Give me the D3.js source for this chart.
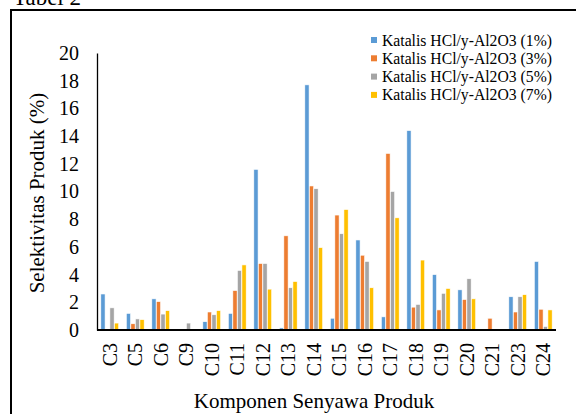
<!DOCTYPE html>
<html>
<head>
<meta charset="utf-8">
<script src="https://cdn.jsdelivr.net/npm/d3@7"></script>
<style>
    body { margin: 0; background: #fff; }
</style>
</head>
<body>
<div id="chart"></div>
<script>
var categories = ["C3", "C5", "C6", "C9", "C10", "C11", "C12", "C13", "C14", "C15", "C16", "C17", "C18", "C19", "C20", "C21", "C23", "C24"];
var seriesNames = ["Katalis HCl/y-Al2O3 (1%)", "Katalis HCl/y-Al2O3 (3%)", "Katalis HCl/y-Al2O3 (5%)", "Katalis HCl/y-Al2O3 (7%)"];
var colors = ["#5B9BD5", "#ED7D31", "#A5A5A5", "#FFC000"];

// one array per catalyst, same order as categories
var katalis1 = [2.6, 1.2, 2.25, 0, 0.6, 1.2, 11.6, 0.15, 17.7, 0.85, 6.5, 0.95, 14.4, 4.0, 2.9, 0, 2.4, 4.95];
var katalis3 = [0, 0.45, 2.05, 0, 1.3, 2.85, 4.8, 6.8, 10.4, 8.3, 5.4, 12.75, 1.65, 1.45, 2.2, 0.85, 1.3, 1.5];
var katalis5 = [1.6, 0.8, 1.15, 0.5, 1.1, 4.3, 4.8, 3.05, 10.2, 6.95, 4.95, 10.0, 1.85, 2.65, 3.7, 0, 2.4, 0.25];
var katalis7 = [0.5, 0.75, 1.4, 0, 1.4, 4.7, 2.95, 3.5, 5.95, 8.7, 3.05, 8.1, 5.05, 3.0, 2.25, 0, 2.55, 1.45];
var yTicks = [0, 2, 4, 6, 8, 10, 12, 14, 16, 18, 20];

var series = [katalis1, katalis3, katalis5, katalis7];
var serif = "'Liberation Serif', 'Times New Roman', 'DejaVu Serif', serif";

var width = 576, height = 414;
var svg = d3.select("#chart")
    .append("svg")
    .attr("width", width)
    .attr("height", height);

// frame of the table cell
svg.append("rect")
    .attr("x", 11)
    .attr("y", 10)
    .attr("width", 600)
    .attr("height", 420)
    .style("fill", "none")
    .style("stroke", "#000")
    .style("stroke-width", 2);

svg.append("text")
    .attr("x", 13)
    .attr("y", 5)
    .style("font-family", serif)
    .style("font-size", "23px")
    .attr("fill", "#000")
    .text("Tabel 2");

var x0 = d3.scaleBand()
    .domain(categories)
    .range([97, 556])
    .paddingInner(0.3)
    .paddingOuter(0.15);

var x1 = d3.scaleBand()
    .domain(d3.range(series.length))
    .range([0, x0.bandwidth()])
    .paddingInner(0.06);

var y = d3.scaleLinear()
    .domain([0, 20])
    .range([330, 53]);

// bars
for (var s = 0; s < series.length; s++) {
    svg.append("g")
        .selectAll("rect")
        .data(series[s].map(function (v, i) { return { cat: categories[i], v: v }; })
            .filter(function (d) { return d.v > 0; }))
        .enter()
        .append("rect")
        .attr("x", function (d) { return x0(d.cat) + x1(s); })
        .attr("y", function (d) { return y(d.v); })
        .attr("width", x1.bandwidth())
        .attr("height", function (d) { return y(0) - y(d.v); })
        .style("fill", colors[s])
        .style("stroke", "#fff")
        .style("stroke-width", 0.6);
}

// y axis
var yAxis = svg.append("g")
    .attr("transform", "translate(97,0)")
    .call(d3.axisLeft(y).tickValues(yTicks).tickSize(0).tickPadding(18));
yAxis.select(".domain").style("stroke", "#000").style("stroke-width", 1.3);
yAxis.selectAll("text")
    .style("font-family", serif)
    .style("font-size", "20px")
    .attr("fill", "#000");

// x axis
var xAxis = svg.append("g")
    .attr("transform", "translate(0,330)")
    .call(d3.axisBottom(x0).tickSize(0).tickPadding(0));
xAxis.select(".domain").attr("d", "M97,0H556").style("stroke", "#000").style("stroke-width", 1.8);
xAxis.selectAll("text")
    .style("font-family", serif)
    .style("font-size", "20px")
    .attr("fill", "#000")
    .attr("text-anchor", "end")
    .attr("transform", "rotate(-90)")
    .attr("x", -13)
    .attr("y", 0)
    .attr("dy", "0.35em");

// axis titles
svg.append("text")
    .attr("transform", "translate(44,193) rotate(-90)")
    .attr("text-anchor", "middle")
    .style("font-family", serif)
    .style("font-size", "21px")
    .attr("fill", "#000")
    .text("Selektivitas Produk (%)");

svg.append("text")
    .attr("x", 314)
    .attr("y", 408)
    .attr("text-anchor", "middle")
    .style("font-family", serif)
    .style("font-size", "21px")
    .attr("fill", "#000")
    .text("Komponen Senyawa Produk");

// legend
var legend = svg.append("g")
    .selectAll("g")
    .data(seriesNames)
    .enter()
    .append("g")
    .attr("transform", function (d, i) { return "translate(371," + (40 + i * 18.3) + ")"; });

legend.append("rect")
    .attr("x", 0)
    .attr("y", -3)
    .attr("width", 6)
    .attr("height", 6)
    .style("fill", function (d, i) { return colors[i]; });

legend.append("text")
    .attr("x", 11)
    .attr("y", 0)
    .attr("dy", "0.35em")
    .style("font-family", serif)
    .style("font-size", "15.7px")
    .attr("fill", "#000")
    .text(function (d) { return d; });
</script>
</body>
</html>
